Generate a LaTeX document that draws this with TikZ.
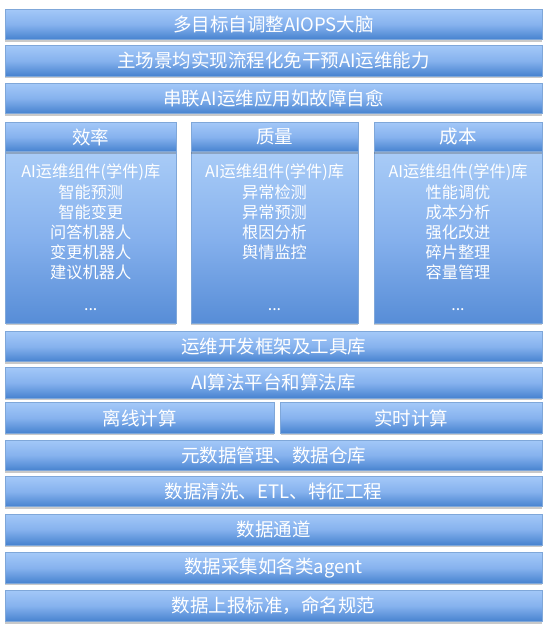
\documentclass[tikz,border=0pt]{standalone}
\usepackage{fontspec}
\setmainfont{Noto Sans CJK SC}
\usetikzlibrary{shadows}
\definecolor{bartop}{HTML}{A3C8F8}
\definecolor{barmid}{HTML}{86B2EE}
\definecolor{barbot}{HTML}{4682CF}
\definecolor{barline}{HTML}{7FA7D9}
\definecolor{bodytop}{HTML}{A9CCF7}
\definecolor{bodymid}{HTML}{86B1ED}
\definecolor{bodybot}{HTML}{578DD7}
\tikzset{
  layer/.style={draw=barline, line width=0.6pt, top color=bartop, bottom color=barbot, middle color=barmid,
    inner sep=0pt, text=white, font=\fontsize{18.5}{20}\selectfont,
    drop shadow={shadow xshift=0pt, shadow yshift=-2pt, opacity=0.3, fill=black!70}},
  colhead/.style={layer},
  colbody/.style={draw=barline, line width=0.6pt, top color=bodytop, bottom color=bodybot, middle color=bodymid,
    inner sep=0pt,
    drop shadow={shadow xshift=0pt, shadow yshift=-2pt, opacity=0.3, fill=black!70}},
  coltext/.style={text=white, inner sep=0pt, align=center, anchor=north, font=\fontsize{16.2}{20.1}\selectfont},
  dotstext/.style={text=white, inner sep=0pt, anchor=base, font=\fontsize{16}{20}\selectfont}
}
\begin{document}
\begin{tikzpicture}[x=1pt, y=-1pt]
\useasboundingbox (0,0) rectangle (549,629);
% top bars
\node[layer, minimum width=537pt, minimum height=30pt] (b1) at (273.5,24.5) {多目标自调整AIOPS大脑};
\node[layer, minimum width=537pt, minimum height=30.5pt] (b2) at (273.5,60.75) {主场景均实现流程化免干预AI运维能力};
\node[layer, minimum width=537pt, minimum height=30.5pt] (b3) at (273.5,98.25) {串联AI运维应用如故障自愈};
% columns
\node[colbody, minimum width=170.5pt, minimum height=171.6pt] (c1b) at (90.75,237.5) {};
\node[colbody, minimum width=167pt, minimum height=171.6pt] (c2b) at (274.5,237.5) {};
\node[colbody, minimum width=168pt, minimum height=171.6pt] (c3b) at (458,237.5) {};
\node[colhead, minimum width=170.5pt, minimum height=29.4pt] (c1h) at (90.75,137) {效率};
\node[colhead, minimum width=167pt, minimum height=29.4pt] (c2h) at (274.5,137) {质量};
\node[colhead, minimum width=168pt, minimum height=29.4pt] (c3h) at (458,137) {成本};
\node[coltext] (c1t) at (90.75,164) {AI运维组件(学件)库\\智能预测\\智能变更\\问答机器人\\变更机器人\\建议机器人};
\node[coltext] (c2t) at (274.5,164) {AI运维组件(学件)库\\异常检测\\异常预测\\根因分析\\舆情监控};
\node[coltext] (c3t) at (458,164) {AI运维组件(学件)库\\性能调优\\成本分析\\强化改进\\碎片整理\\容量管理};
\node[dotstext] (c1d) at (90.75,310) {...};
\node[dotstext] (c2d) at (274.5,310) {...};
\node[dotstext] (c3d) at (458,310) {...};
% lower bars
\node[layer, minimum width=537pt, minimum height=30pt] (b4) at (273.5,346.7) {运维开发框架及工具库};
\node[layer, minimum width=537pt, minimum height=31pt] (b5) at (273.5,382.8) {AI算法平台和算法库};
\node[layer, minimum width=269pt, minimum height=30.6pt] (b6l) at (139.5,418) {离线计算};
\node[layer, minimum width=261.3pt, minimum height=30.6pt] (b6r) at (411.35,418) {实时计算};
\node[layer, minimum width=537pt, minimum height=30.7pt] (b7) at (273.5,455.35) {元数据管理、数据仓库};
\node[layer, minimum width=537pt, minimum height=30pt] (b8) at (273.5,491.7) {数据清洗、ETL、特征工程};
\node[layer, minimum width=537pt, minimum height=31pt] (b9) at (273.5,529.5) {数据通道};
\node[layer, minimum width=537pt, minimum height=30.6pt] (b10) at (273.5,568) {数据采集如各类agent};
\node[layer, minimum width=537pt, minimum height=31.7pt] (b11) at (273.5,605.85) {数据上报标准，命名规范};
\end{tikzpicture}
\end{document}
